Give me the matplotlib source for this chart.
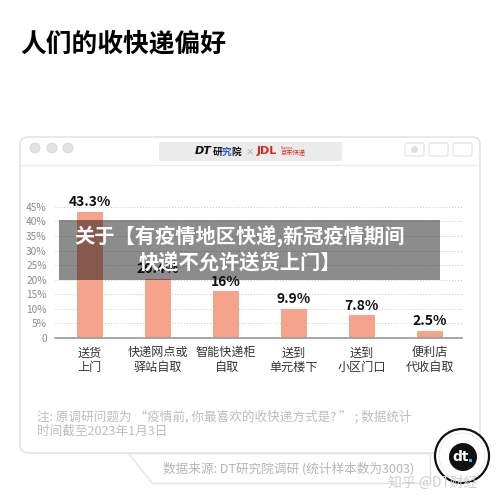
import numpy as np
import matplotlib
matplotlib.use('Agg')
import matplotlib.pyplot as plt
from matplotlib.patches import FancyBboxPatch, Rectangle, Circle, Polygon

plt.rcParams['font.family'] = ['Noto Sans CJK SC', 'DejaVu Sans']

# data
title = '人们的收快递偏好'
categories = ['送货\n上门', '快递网点或\n驿站自取', '智能快递柜\n自取',
              '送到\n单元楼下', '送到\n小区门口', '便利店\n代收自取']
shares = [43.3, 20.4, 16, 9.9, 7.8, 2.5]
share_labels = ['43.3%', '20.4%', '16%', '9.9%', '7.8%', '2.5%']
y_ticks = [0, 5, 10, 15, 20, 25, 30, 35, 40, 45]
y_tick_labels = ['0', '5%', '10%', '15%', '20%', '25%', '30%', '35%', '40%', '45%']
note_lines = ['注: 原调研问题为 “疫情前, 你最喜欢的收快递方式是? ” ; 数据统计',
              '时间截至2023年1月3日']
source = '数据来源: DT研究院调研 (统计样本数为3003)'
overlay_lines = ['关于【有疫情地区快递,新冠疫情期间', '快递不允许送货上门】']
credit = '知乎 @DT财经'

bar_color = '#F6A38B'

fig = plt.figure(figsize=(5, 5.04), dpi=100)
fig.patch.set_facecolor('white')

# background layer in pixel coords
bg = fig.add_axes([0, 0, 1, 1], zorder=0)
bg.set_xlim(0, 500)
bg.set_ylim(504, 0)
bg.axis('off')

bg.text(20, 44, title, fontsize=18.5, fontweight='bold', color='black', va='center', ha='left')

# card window
card = FancyBboxPatch((20, 137), 460, 316, boxstyle='round,pad=0,rounding_size=8',
                      facecolor='white', edgecolor='#e4e4e4', linewidth=1.2)
bg.add_patch(card)
bg.plot([20, 480], [165, 165], color='#ececec', lw=1)
for cx in [35, 52, 68]:
    bg.add_patch(Circle((cx, 148), 5, facecolor='#e2e2e2', edgecolor='#d6d6d6', lw=0.6))
for x0 in [405, 429, 453]:
    bg.add_patch(FancyBboxPatch((x0, 143), 19, 13, boxstyle='round,pad=0,rounding_size=2',
                                facecolor='white', edgecolor='#e0e0e0', lw=0.8))
bg.add_patch(Circle((414.5, 149.5), 3.5, facecolor='#e0e0e0', edgecolor='none'))
bg.add_patch(FancyBboxPatch((159, 142), 183, 19, boxstyle='round,pad=0,rounding_size=2',
                            facecolor='#ebebeb', edgecolor='none'))
bg.text(195, 151.5, 'DT', fontsize=8, fontweight='bold', style='italic', color='#111111',
        va='center', ha='left', family='DejaVu Sans')
bg.text(213, 151.5, '研', fontsize=7, fontweight='bold', color='#111111', va='center')
bg.text(222, 151.5, '究', fontsize=7, fontweight='bold', color='#2a5bd7', va='center')
bg.text(231, 151.5, '院', fontsize=7, fontweight='bold', color='#111111', va='center')
bg.text(246, 152, '×', fontsize=6, color='#999999', va='center')
bg.text(257, 151.5, 'JDL', fontsize=8, fontweight='bold', color='#e1251b', va='center',
        family='DejaVu Sans')
bg.text(281, 153, '京东快递', fontsize=4.5, color='#e1251b', va='center')
bg.text(281, 147.5, 'Express', fontsize=2.5, color='#e1251b', va='center')

# notes
bg.text(37, 417, note_lines[0], fontsize=9.1, color='#bdbdbd', va='center', ha='left')
bg.text(37, 431, note_lines[1], fontsize=9.1, color='#bdbdbd', va='center', ha='left')

# source tag
bg.add_patch(Polygon([[128, 453], [430, 453], [430, 483], [152, 483]], closed=True,
                     facecolor='white', edgecolor='#e4e4e4', lw=1))
bg.text(163, 469, source, fontsize=9.1, color='#b5b5b5', va='center', ha='left')

# bar chart
ax = fig.add_axes([55 / 500, (504 - 338) / 504, 407 / 500, 134 / 504], zorder=1)
ax.patch.set_alpha(0)
x = np.arange(len(categories))
ax.bar(x, shares, width=0.38, color=bar_color, zorder=2)
for xi, v, lab in zip(x, shares, share_labels):
    ax.annotate(lab, (xi, v), xytext=(0, 2), textcoords='offset points',
                ha='center', va='bottom', fontsize=10, fontweight='bold', color='#111111')
ax.set_xlim(-0.51, 5.475)
ax.set_ylim(0, 46)
ax.set_yticks(y_ticks)
ax.set_yticklabels(y_tick_labels, fontsize=7.3, color='#8a8a8a')
ax.set_xticks(x)
ax.set_xticklabels(categories, fontsize=8.7, color='#333333', linespacing=1.15)
ax.tick_params(axis='both', length=0)
ax.tick_params(axis='x', pad=6)
ax.tick_params(axis='y', pad=6)
ax.grid(axis='y', linestyle=(0, (1, 2)), color='#c8c8c8', lw=0.7, zorder=0)
for s in ['top', 'right', 'left']:
    ax.spines[s].set_visible(False)
ax.spines['bottom'].set_color('#9a9a9a')
ax.spines['bottom'].set_linewidth(1.2)

# overlay layer
top = fig.add_axes([0, 0, 1, 1], zorder=2)
top.patch.set_alpha(0)
top.set_xlim(0, 500)
top.set_ylim(504, 0)
top.axis('off')
top.add_patch(Rectangle((59, 220), 381, 60, facecolor='black', alpha=0.45, edgecolor='none'))
top.text(240, 237, overlay_lines[0], fontsize=14.6, fontweight='bold', color='white',
         ha='center', va='center')
top.text(240, 263, overlay_lines[1], fontsize=14.6, fontweight='bold', color='white',
         ha='center', va='center')

# logo badge
top.add_patch(Circle((462, 456), 27, facecolor='white', edgecolor='#111111', lw=1.6))
top.add_patch(Circle((462, 456), 23, facecolor='none', edgecolor='#bbbbbb', lw=0.5,
                     linestyle=(0, (1, 1.5))))
top.add_patch(Circle((463, 457), 14, facecolor='#111111', edgecolor='none'))
top.text(461, 457, 'dt', fontsize=10, fontweight='bold', color='white',
         ha='center', va='center', family='DejaVu Sans')
top.add_patch(Rectangle((469, 459), 3, 3, facecolor='#3fb6e8', edgecolor='none'))
top.text(388, 483, credit, fontsize=10, color='#d0d0d0', ha='left', va='center')

fig.savefig('out.png', dpi=100)
